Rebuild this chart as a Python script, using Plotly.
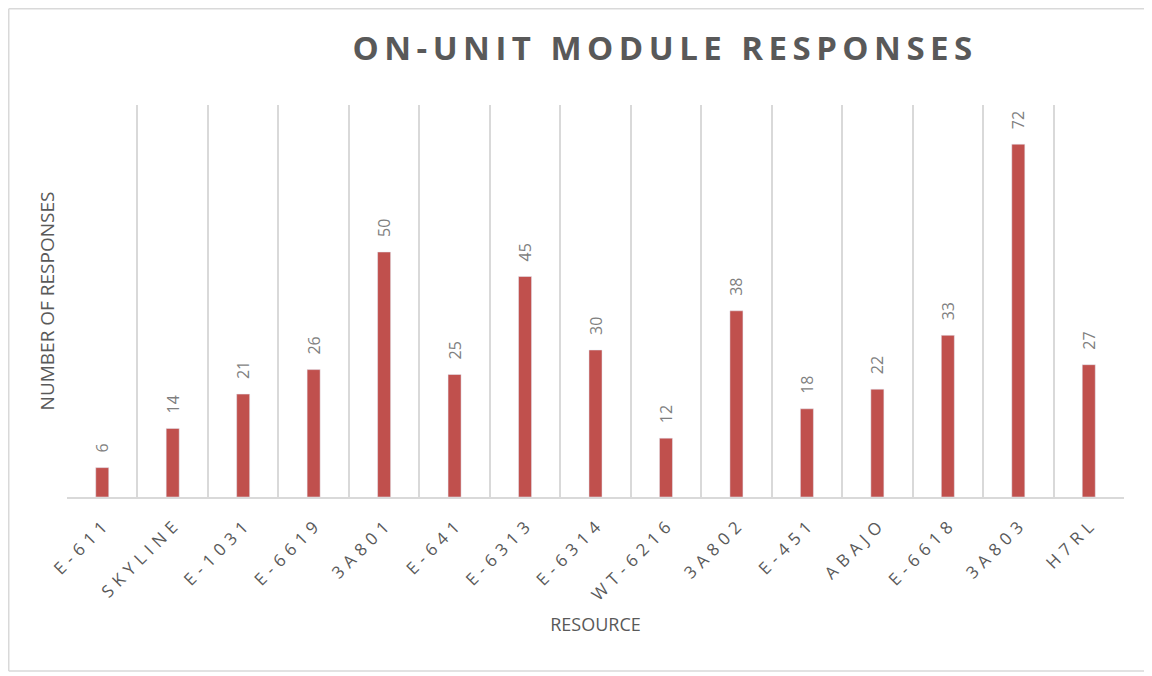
import plotly.graph_objects as go

resources = ["E-611", "SKYLINE", "E-1031", "E-6619", "3A801", "E-641", "E-6313",
             "E-6314", "WT-6216", "3A802", "E-451", "ABAJO", "E-6618", "3A803", "H7RL"]
responses = [6, 14, 21, 26, 50, 25, 45, 30, 12, 38, 18, 22, 33, 72, 27]

grey = "#595959"
W, H = 1144, 668          # page body adds 8px margin
L, R, T, B = 59, 28, 97, 179


def spaced(s, sep):
    # excel-style letter spacing
    return sep.join(s)


fig = go.Figure()
fig.add_trace(go.Bar(
    x=resources, y=responses,
    marker_color="#C0504D", width=0.185,
    text=responses, texttemplate="\u2002\u2005%{text}",
    textposition="outside", textangle=-90, constraintext="none",
    textfont=dict(size=16, color="#7F7F7F", family="Open Sans"),
    cliponaxis=False,
))

pw, ph = W - L - R, H - T - B
xl, xr = -(L - 0.75) / pw, (W - L) / pw
yb, yt = -(B - 5) / ph, (T - 0.75) / ph + 1
border = dict(color="#D9D9D9", width=1.5)
fig.update_layout(
    width=W, height=H,
    margin=dict(l=L, r=R, t=T, b=B, autoexpand=False),
    paper_bgcolor="white", plot_bgcolor="white",
    showlegend=False,
    title=dict(text=spaced("ON-UNIT MODULE RESPONSES", "\u2009"), x=0.572, xanchor="center",
               y=0.940, yanchor="middle",
               font=dict(size=33, color=grey, family="Open Sans", weight="bold")),
    font=dict(family="Open Sans", color=grey),
    shapes=[
        dict(type="line", xref="paper", yref="paper", x0=xl, x1=xl, y0=yb, y1=yt, line=border),
        dict(type="line", xref="paper", yref="paper", x0=xl, x1=xr, y0=yt, y1=yt, line=border),
        dict(type="line", xref="paper", yref="paper", x0=xl, x1=xr, y0=yb, y1=yb, line=border),
    ],
)

fig.update_xaxes(
    type="category", tickangle=-45, tickfont=dict(size=17, color=grey),
    tickvals=resources, ticktext=[spaced(r, "\u2004") for r in resources],
    ticklabelstandoff=12,
    showgrid=True, gridcolor="#D9D9D9", gridwidth=1.5, tickson="boundaries",
    ticks="", showline=True, linecolor="#D9D9D9", linewidth=1.5, mirror=False,
    automargin=False,
    title=dict(text="RESOURCE", font=dict(size=18, color=grey), standoff=14),
)
fig.update_yaxes(
    range=[0, 80], showgrid=False, showticklabels=False, zeroline=False,
    automargin=False,
    title=dict(text="NUMBER OF RESPONSES", font=dict(size=19, color=grey), standoff=6),
)

fig.write_html("out.html")
